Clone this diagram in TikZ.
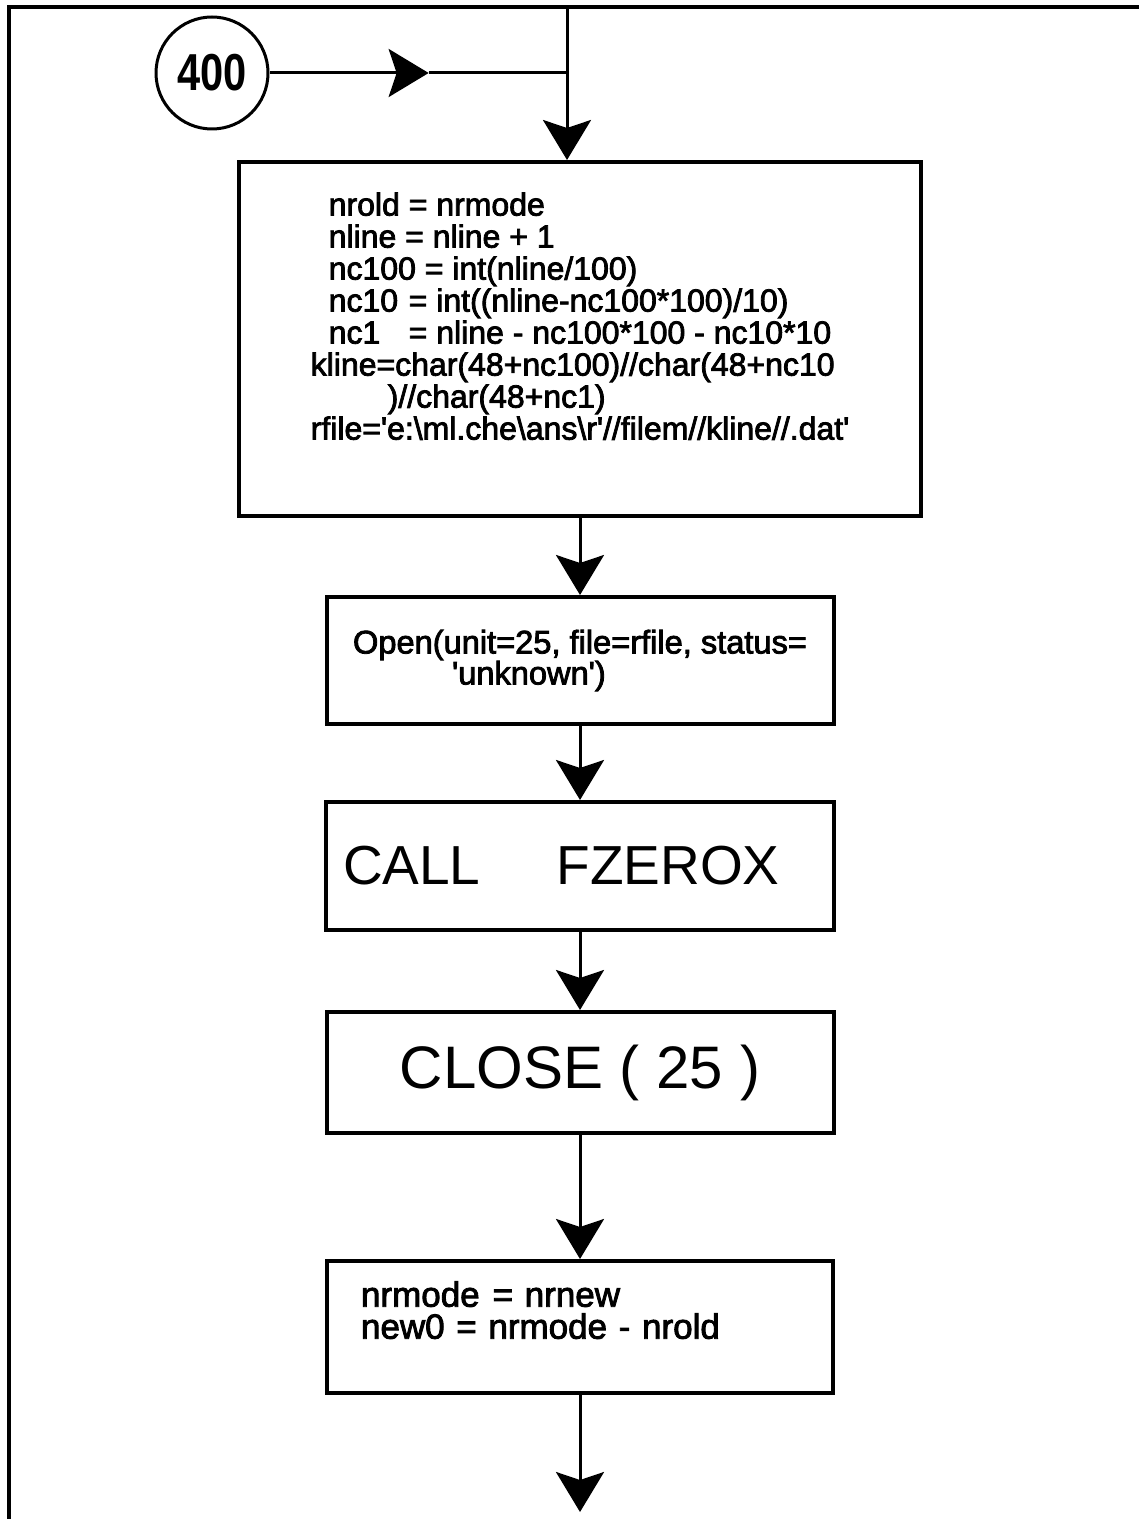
\documentclass[tikz,border=0pt]{standalone}
\usepackage{fontspec}
\setmainfont{Liberation Sans}
\newfontfamily\codefont{Liberation Sans}[FakeBold=2.5]
\usepackage{graphicx}
\usetikzlibrary{positioning,arrows.meta,calc}
\tikzset{
  stepbox/.style  = {draw, line width=2pt, align=left, inner sep=0pt,
                     font=\codefont\fontsize{16}{16}\selectfont},
  bigbox/.style   = {draw, line width=2pt, align=center, inner sep=0pt,
                     font=\fontsize{30}{30}\selectfont},
  conn/.style     = {circle, draw, line width=1.5pt, minimum size=56pt, inner sep=0pt,
                     font=\fontsize{26}{26}\bfseries},
  arrow/.style    = {-{Stealth[length=20pt, width=24pt, inset=4pt]}, line width=1.5pt},
  flowline/.style = {line width=1.5pt},
  frame/.style    = {line width=2pt},
}

\begin{document}
\begin{tikzpicture}[x=0.5pt, y=-0.5pt]
  \useasboundingbox (0,0) rectangle (1139,1519);
  % page frame (incoming lines)
  \draw[frame] (9,1519) -- (9,7) -- (1139,7);
  \coordinate (entry) at (567,7);

  \node[conn] (c400) at (212,73) {\scalebox{0.8}[1]{400}};
  \node[stepbox, minimum width=341pt, minimum height=177pt] (init) at (580,339)
    {\hspace*{9pt}nrold = nrmode\\
     \hspace*{9pt}nline = nline + 1\\
     \hspace*{9pt}nc100 = int(nline/100)\\
     \hspace*{9pt}\makebox[40pt][l]{nc10}= int((nline-nc100*100)/10)\\
     \hspace*{9pt}\makebox[40pt][l]{nc1}= nline - nc100*100 - nc10*10\\
     kline=char(48+nc100)//char(48+nc10\\
     \hspace*{38.5pt})//char(48+nc1)\\
     rfile=\textquotesingle e:\textbackslash ml.che\textbackslash ans\textbackslash r\textquotesingle //filem//kline//.dat\textquotesingle\\[7pt]\mbox{}};
  \node[stepbox, minimum width=253.5pt, minimum height=63.5pt, below=38.5pt of init,
        font=\codefont\fontsize{16.3}{15.5}\selectfont] (openf)
    {Open(unit=25, file=rfile, status=\\
     \hspace*{49.5pt}\textquotesingle unknown\textquotesingle)};
  \node[bigbox, minimum width=254pt, minimum height=64pt, below=37pt of openf,
        align=left, text width=237pt, font=\fontsize{27.5}{30}\selectfont] (callf)
    {CALL\hspace{38pt}FZEROX};
  \node[bigbox, minimum width=253.5pt, minimum height=60.5pt, below=39pt of callf] (closef)
    {CLOSE ( 25 )};
  \node[stepbox, minimum width=253pt, minimum height=66pt, below=62pt of closef,
        text width=219pt, font=\codefont\fontsize{17.5}{16}\selectfont] (update)
    {nrmode\hspace{6.5pt}= nrnew\\
     new0 = nrmode - nrold\\[1pt]\mbox{}};
  \coordinate[below=58.5pt of update] (exit);

  \coordinate (join) at (entry |- c400);
  \coordinate (midtip) at ($(c400.east)!0.535!(join)$);
  \draw[arrow] (c400.east) -- (midtip);
  \draw[flowline] (midtip) -- (join);
  \draw[arrow] (entry) -- (entry |- init.north);
  \draw[arrow] (init) -- (openf);
  \draw[arrow] (openf) -- (callf);
  \draw[arrow] (callf) -- (closef);
  \draw[arrow] (closef) -- (update);
  \draw[arrow] (update) -- (exit);
\end{tikzpicture}
\end{document}
